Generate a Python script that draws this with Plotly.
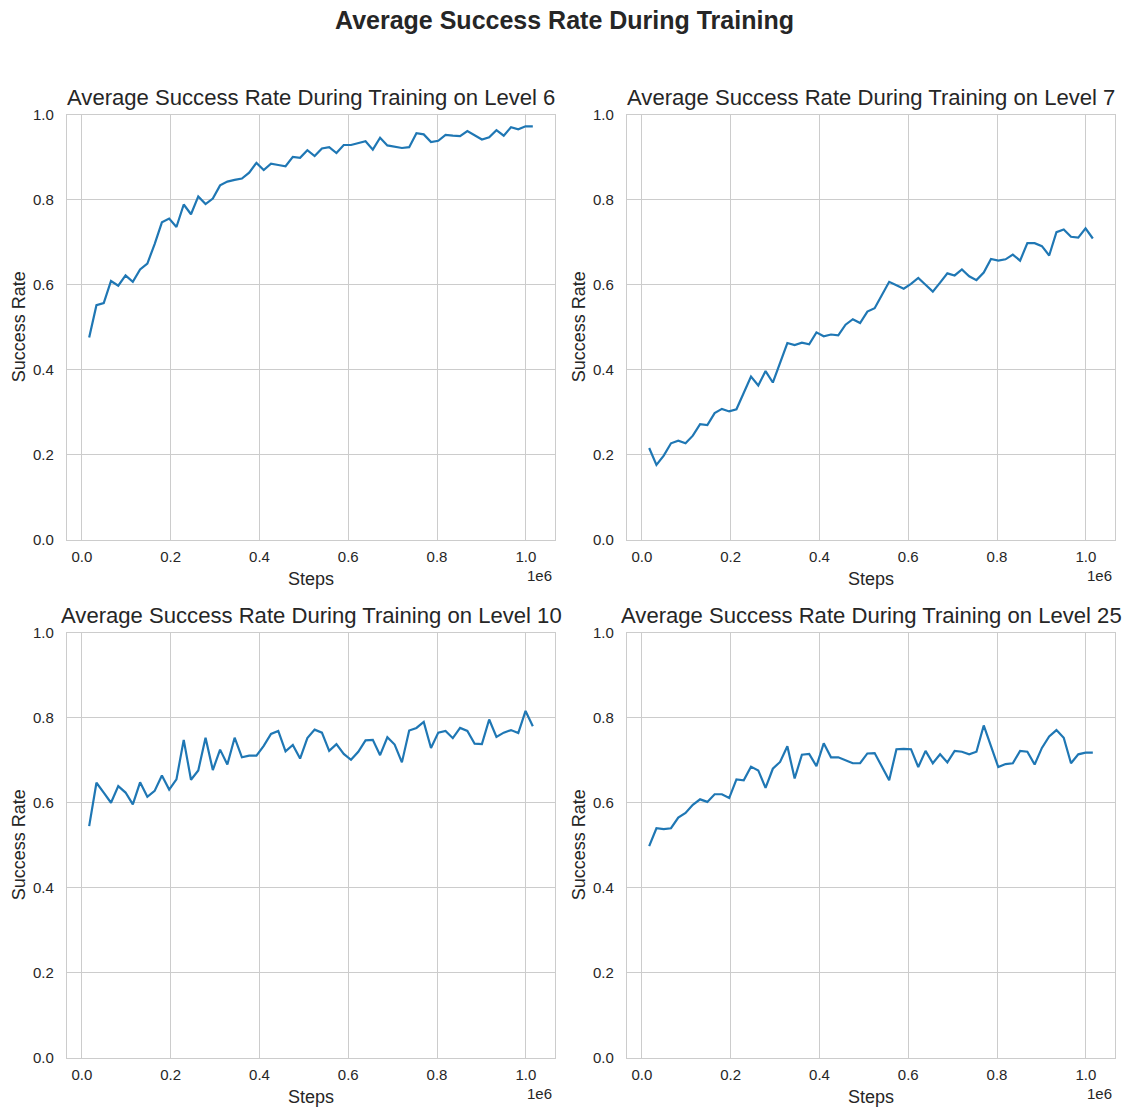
import plotly.graph_objects as go

# Training steps: 62 evaluations, every 16384 steps
steps = [16384 * (i + 1) for i in range(62)]

level_6 = [0.476, 0.552, 0.557, 0.609, 0.598, 0.622, 0.607, 0.636, 0.650, 0.696,
           0.747, 0.756, 0.736, 0.789, 0.766, 0.808, 0.790, 0.803, 0.834, 0.843,
           0.847, 0.850, 0.864, 0.887, 0.870, 0.885, 0.882, 0.879, 0.901, 0.899,
           0.917, 0.903, 0.921, 0.924, 0.910, 0.929, 0.929, 0.934, 0.938, 0.918,
           0.946, 0.928, 0.925, 0.922, 0.924, 0.957, 0.954, 0.936, 0.939, 0.953,
           0.951, 0.950, 0.962, 0.951, 0.942, 0.947, 0.964, 0.951, 0.971, 0.966,
           0.973, 0.973]

level_7 = [0.216, 0.176, 0.198, 0.227, 0.233, 0.227, 0.245, 0.272, 0.270, 0.298,
           0.308, 0.302, 0.307, 0.345, 0.384, 0.363, 0.397, 0.370, 0.416, 0.463,
           0.458, 0.464, 0.460, 0.488, 0.479, 0.483, 0.481, 0.506, 0.519, 0.510,
           0.537, 0.545, 0.576, 0.607, 0.599, 0.591, 0.602, 0.616, 0.600, 0.584,
           0.605, 0.627, 0.622, 0.636, 0.620, 0.611, 0.629, 0.661, 0.657, 0.660,
           0.671, 0.657, 0.698, 0.698, 0.691, 0.669, 0.724, 0.730, 0.713, 0.711,
           0.733, 0.709]

level_10 = [0.545, 0.647, 0.624, 0.600, 0.639, 0.624, 0.596, 0.648, 0.614, 0.628,
            0.664, 0.631, 0.655, 0.748, 0.654, 0.676, 0.753, 0.677, 0.725, 0.690,
            0.753, 0.707, 0.711, 0.711, 0.734, 0.762, 0.769, 0.721, 0.736, 0.704,
            0.752, 0.772, 0.765, 0.722, 0.738, 0.715, 0.701, 0.720, 0.747, 0.748,
            0.712, 0.754, 0.737, 0.695, 0.770, 0.776, 0.790, 0.729, 0.765, 0.769,
            0.752, 0.776, 0.769, 0.739, 0.738, 0.796, 0.755, 0.765, 0.771, 0.764,
            0.816, 0.780]

level_25 = [0.498, 0.540, 0.538, 0.540, 0.565, 0.576, 0.595, 0.608, 0.602, 0.620,
            0.620, 0.611, 0.655, 0.653, 0.685, 0.676, 0.635, 0.680, 0.696, 0.733,
            0.657, 0.713, 0.715, 0.686, 0.740, 0.707, 0.707, 0.700, 0.693, 0.693,
            0.716, 0.717, 0.685, 0.653, 0.726, 0.727, 0.726, 0.684, 0.722, 0.693,
            0.714, 0.695, 0.722, 0.720, 0.714, 0.720, 0.782, 0.733, 0.684, 0.691,
            0.693, 0.722, 0.720, 0.690, 0.729, 0.756, 0.771, 0.753, 0.693, 0.714,
            0.718, 0.718]

levels = ["6", "7", "10", "25"]
series = [level_6, level_7, level_10, level_25]

x_tick_vals = [0, 200000, 400000, 600000, 800000, 1000000]
x_tick_text = ["0.0", "0.2", "0.4", "0.6", "0.8", "1.0"]
y_tick_vals = [0.0, 0.2, 0.4, 0.6, 0.8, 1.0]
y_tick_text = ["0.0", "0.2", "0.4", "0.6", "0.8", "1.0"]

W, H = 1128, 1109
FONT = "Liberation Sans, Arial, sans-serif"
TEXT = "#262626"
GRID = "#cccccc"
LINE = "#1f77b4"

# panel boxes in figure pixels: (left, right, top, bottom)
boxes = [(67, 555, 107.5, 539), (627, 1115, 107.5, 539),
         (67, 555, 633.5, 1065), (627, 1115, 633.5, 1065)]

# 5% padding on either side of the data, as in the default autoscale
span = steps[-1] - steps[0]
x_range = [steps[0] - 0.05 * span, steps[-1] + 0.05 * span]

fig = go.Figure()
annotations = []

for k, (lvl, vals, box) in enumerate(zip(levels, series, boxes)):
    left, right, top, bottom = box
    n = "" if k == 0 else str(k + 1)
    xa, ya = "x" + n, "y" + n
    fig.add_trace(go.Scatter(x=steps, y=vals, mode="lines",
                             line=dict(color=LINE, width=2.2),
                             xaxis=xa, yaxis=ya, showlegend=False,
                             hoverinfo="x+y"))
    common = dict(showgrid=True, gridcolor=GRID, gridwidth=1,
                  showline=True, linecolor=GRID, linewidth=1.25, mirror=True,
                  zeroline=False, ticks="",
                  tickfont=dict(family=FONT, size=15, color=TEXT))
    fig.update_layout(**{
        "xaxis" + n: dict(domain=[left / W, right / W], anchor=ya,
                          range=x_range, tickvals=x_tick_vals,
                          ticktext=x_tick_text, ticklabelstandoff=3, **common),
        "yaxis" + n: dict(domain=[1 - bottom / H, 1 - top / H], anchor=xa,
                          range=[0, 1], tickvals=y_tick_vals,
                          ticktext=y_tick_text, ticklabelstandoff=9, **common),
    })
    cx = (left + right) / 2
    cy = (top + bottom) / 2
    # panel title
    annotations.append(dict(
        text=f"Average Success Rate During Training on Level {lvl}",
        x=cx / W, y=1 - (top - 18) / H, xref="paper", yref="paper",
        xanchor="center", yanchor="middle", showarrow=False,
        font=dict(family=FONT, size=22.1, color=TEXT)))
    # x axis label
    annotations.append(dict(
        text="Steps", x=cx / W, y=1 - (bottom + 39.5) / H,
        xref="paper", yref="paper", xanchor="center", yanchor="middle",
        showarrow=False, font=dict(family=FONT, size=18, color=TEXT)))
    # axis offset label
    annotations.append(dict(
        text="1e6", x=(right - 1) / W, y=1 - (bottom + 36) / H,
        xref="paper", yref="paper", xanchor="right", yanchor="middle",
        showarrow=False, font=dict(family=FONT, size=15, color=TEXT)))
    # y axis label
    annotations.append(dict(
        text="Success Rate", x=(left - 48) / W, y=1 - cy / H,
        xref="paper", yref="paper", xanchor="center", yanchor="middle",
        textangle=-90, showarrow=False,
        font=dict(family=FONT, size=18, color=TEXT)))

annotations.append(dict(
    text="<b>Average Success Rate During Training</b>",
    x=0.5, y=1 - 11 / H, xref="paper", yref="paper",
    xanchor="center", yanchor="middle", showarrow=False,
    font=dict(family=FONT, size=25, color=TEXT)))

fig.update_layout(width=W, height=H, margin=dict(l=0, r=0, t=0, b=0),
                  paper_bgcolor="white", plot_bgcolor="white",
                  annotations=annotations)

fig.write_html("out.html")
